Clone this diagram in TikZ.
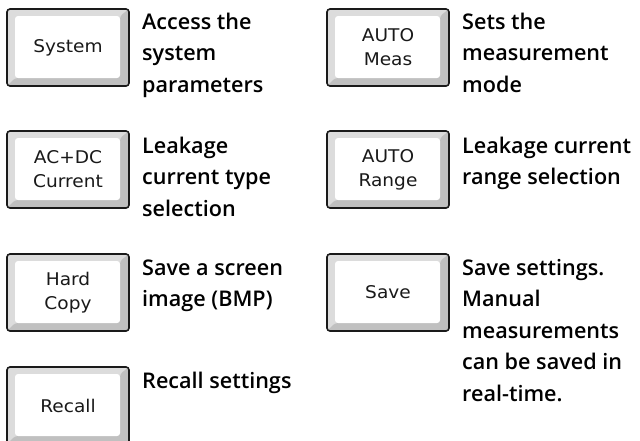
\documentclass[tikz,border=0pt]{standalone}
\usepackage{fontspec}
\usepackage{tikz}
\newfontfamily\descfont{Open Sans}[BoldFont={Open Sans Semibold}]
\newfontfamily\capfont{DejaVu Sans}[FakeStretch=1.06]
\definecolor{bevellight}{HTML}{DCDCDC}
\definecolor{beveldark}{HTML}{C0C0C0}
\definecolor{keyrim}{HTML}{1A1A1A}

\begin{document}
\begin{tikzpicture}[x=1pt,y=-1pt,line cap=round,
  keycap/.style={draw=keyrim,line width=1.6pt,fill=bevellight,rounded corners=3pt,
    minimum width=122pt,minimum height=77pt,inner sep=0pt,align=center,
    text=black!90,font=\capfont\fontsize{17.5}{24}\selectfont,
    path picture={
      \fill[beveldark] (path picture bounding box.north east) -- ++(-9pt,-7pt)
        -- ([shift={(-9pt,8pt)}]path picture bounding box.south east)
        -- ([shift={(8pt,8pt)}]path picture bounding box.south west)
        -- (path picture bounding box.south west) -- (path picture bounding box.south east) -- cycle;
      \fill[white,rounded corners=3pt] ([shift={(8pt,-7pt)}]path picture bounding box.north west)
        rectangle ([shift={(-9pt,8pt)}]path picture bounding box.south east);
    }},
  desc/.style={anchor=base west,inner sep=0pt,align=left,
    font=\descfont\bfseries\fontsize{21.6}{31.5}\selectfont}]
\useasboundingbox (0,0) rectangle (640,440);

% left column (desc nodes sit on the baseline of their last line)
\node[keycap] (sys) at (68,47.5) {System};
\node[desc] (sysdesc) at (142,92) {Access the\\system\\parameters};
\node[keycap] (acdc) at (68,169.5) {AC+DC\\Current};
\node[desc] (acdcdesc) at (142,216) {Leakage\\current type\\selection};
\node[keycap] (hcopy) at (68,292.5) {Hard\\Copy};
\node[desc] (hcopydesc) at (142,306.5) {Save a screen\\image (BMP)};
\node[keycap] (recall) at (68,405.5) {Recall};
\node[desc] (recalldesc) at (142,388) {Recall settings};

% right column
\node[keycap] (meas) at (388,47.5) {AUTO\\Meas};
\node[desc] (measdesc) at (462,92) {Sets the\\measurement\\mode};
\node[keycap] (range) at (388,169.5) {AUTO\\Range};
\node[desc] (rangedesc) at (462,184.5) {Leakage current\\range selection};
\node[keycap] (save) at (388,292.5) {Save};
\node[desc] (savedesc) at (462,401) {Save settings.\\Manual\\measurements\\can be saved in\\real-time.};
\end{tikzpicture}
\end{document}
